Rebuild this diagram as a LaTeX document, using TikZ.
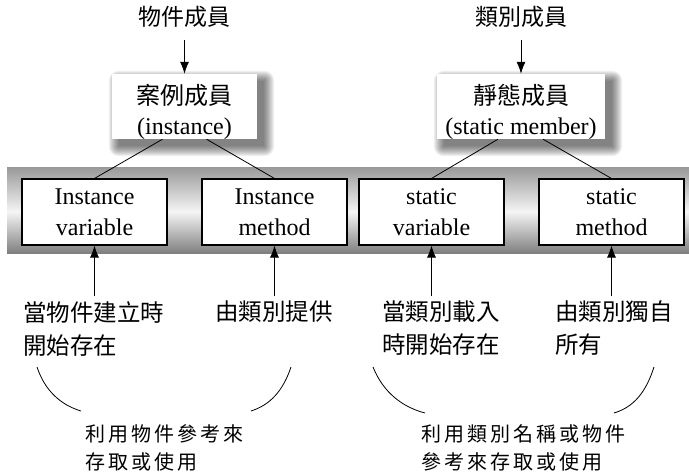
\documentclass[tikz,border=0pt]{standalone}
\usepackage{fontspec}
\setmainfont{Liberation Serif}
\newfontfamily\cjk{Noto Sans CJK TC}
\newfontfamily\cjkk{Noto Sans CJK TC}[LetterSpace=15]
\usetikzlibrary{arrows.meta,backgrounds}
\begin{document}
\begin{tikzpicture}[x=1pt,y=-1pt,
  box/.style={draw=black,line width=1.1pt,fill=white,minimum width=145pt,minimum height=66pt,align=center,inner sep=0pt,font=\fontsize{24}{31}\selectfont},
  topbox/.style={fill=white,minimum height=65pt,inner sep=0pt},
  toptext/.style={align=center,inner sep=0pt,font=\fontsize{24}{30}\selectfont},
  head/.style={inner sep=0pt,font=\cjk\fontsize{23}{28}\selectfont},
  lbl/.style={align=left,anchor=north west,inner sep=0pt,font=\cjk\fontsize{23.5}{33}\selectfont},
  kai/.style={align=left,anchor=north west,inner sep=0pt,font=\cjkk\fontsize{20}{28.5}\selectfont},
  arr/.style={-{Latex[length=12pt,width=9pt]},line width=0.8pt},
  ln/.style={line width=0.8pt}]
\useasboundingbox (0,0) rectangle (689,474);
% band
\shade[top color=black!40, bottom color=black!4] (7,167) rectangle (689,212);
\shade[top color=black!4, bottom color=black!50] (7,211.5) rectangle (689,253);
% top labels
\node[head] (h1) at (184.5,17) {物件成員};
\node[head] (h2) at (521,17) {類別成員};
% top boxes
\node[topbox,minimum width=145pt,label={[toptext,yshift=-5pt]center:{\cjk 案例成員}\\(instance)}] (t1) at (184.5,106.5) {};
\node[topbox,minimum width=168pt,label={[toptext,yshift=-5pt]center:{\cjk 靜態成員}\\(static member)}] (t2) at (521,106.5) {};
\begin{scope}[on background layer]
  \foreach \n in {t1,t2}{
    \foreach \e in {0,1,...,10}{
      \fill[black,opacity=0.06,rounded corners=\e pt] ([shift={(7-\e,7-\e)}]\n.north west) rectangle ([shift={(7+\e,7+\e)}]\n.south east);
    }
  }
\end{scope}
% boxes in band
\node[box] (b1) at (94.5,212) {Instance\\variable};
\node[box] (b2) at (274.5,212) {Instance\\method};
\node[box] (b3) at (431.5,212) {static\\variable};
\node[box] (b4) at (611.5,212) {static\\method};
% arrows from heads
\draw[arr,shorten <=12pt] (h1.south) -- (t1.north);
\draw[arr,shorten <=12pt] (h2.south) -- (t2.north);
% connectors
\draw[ln] ([xshift=-22pt]t1.south) -- (b1.north);
\draw[ln] ([xshift=22pt]t1.south) -- (b2.north);
\draw[ln] ([xshift=-23pt]t2.south) -- (b3.north);
\draw[ln] ([xshift=22pt]t2.south) -- (b4.north);
% bottom arrows
\coordinate (p1) at (94.5,296);
\coordinate (p2) at (274.5,296);
\coordinate (p3) at (431.5,296);
\coordinate (p4) at (611.5,296);
\draw[arr] (p1) -- (b1.south);
\draw[arr] (p2) -- (b2.south);
\draw[arr] (p3) -- (b3.south);
\draw[arr] (p4) -- (b4.south);
% labels
\node[lbl] (l1) at (23,301) {當物件建立時\\開始存在};
\node[lbl] (l2) at (215,301) {由類別提供};
\node[lbl] (l3) at (382,301) {當類別載入\\時開始存在};
\node[lbl] (l4) at (555,301) {由類別獨自\\所有};
% arcs
\draw[ln] (37,367) .. controls (45,391) and (61,405) .. (81,411);
\draw[ln] (291,367) .. controls (283,391) and (270,405) .. (251,411);
\draw[ln] (373,367) .. controls (383,392) and (402,407) .. (425,413);
\draw[ln] (654,367) .. controls (646,392) and (634,407) .. (614,413);
% bottom texts
\node[kai] (k1) at (85,424) {利用物件參考來\\存取或使用};
\node[kai] (k2) at (421,424) {利用類別名稱或物件\\參考來存取或使用};
\end{tikzpicture}
\end{document}
